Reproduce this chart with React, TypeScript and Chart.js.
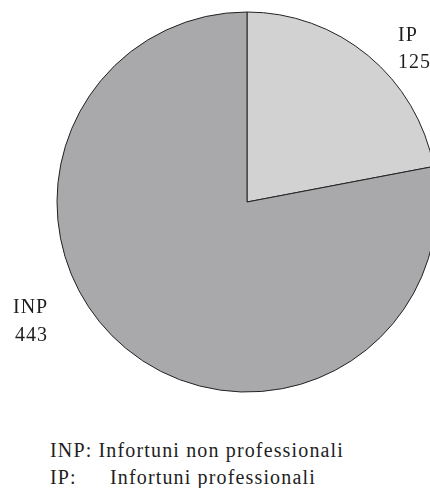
import React, { useEffect, useRef } from "react";
import { Chart, registerables } from "chart.js";

Chart.register(...registerables);

const categories = ["IP", "INP"];
const values = [125, 443];
const descriptions = ["Infortuni professionali", "Infortuni non professionali"];
const colors = ["#d2d2d3", "#a9a9ab"];

const font = "'Liberation Serif', 'Times New Roman', serif";

export default function App() {
  const ref = useRef<HTMLCanvasElement>(null);
  useEffect(() => {
    const chart = new Chart(ref.current!, {
      type: "pie",
      data: {
        labels: categories,
        datasets: [
          {
            data: values,
            backgroundColor: colors,
            borderColor: "#222",
            borderWidth: 1,
          },
        ],
      },
      options: {
        responsive: false,
        animation: false,
        radius: 190,
        layout: { padding: 0 },
        plugins: { legend: { display: false }, tooltip: { enabled: false } },
      } as any,
    });
    return () => chart.destroy();
  }, []);

  const txt: React.CSSProperties = {
    position: "absolute",
    fontFamily: font,
    fontSize: 20,
    lineHeight: "20px",
    letterSpacing: "1px",
    color: "#1e1e1e",
    whiteSpace: "pre",
  };
  const leg: React.CSSProperties = { ...txt, letterSpacing: "1.15px" };

  return (
    <div
      style={{
        position: "fixed",
        left: 0,
        top: 0,
        width: 430,
        height: 488,
        overflow: "hidden",
        background: "#fff",
      }}
    >
      <canvas ref={ref} width={494} height={404} style={{ display: "block", width: 494, height: 404 }} />
      <div style={{ ...txt, left: 398, top: 24 }}>{categories[0]}</div>
      <div style={{ ...txt, left: 398, top: 51 }}>{String(values[0])}</div>
      <div style={{ ...txt, left: 13, top: 296 }}>{categories[1]}</div>
      <div style={{ ...txt, left: 15, top: 324 }}>{String(values[1])}</div>
      <div style={{ ...leg, left: 50, top: 440 }}>
        <span>{categories[1] + ": "}</span>
        <span>{descriptions[1]}</span>
      </div>
      <div style={{ ...leg, left: 50, top: 467 }}>
        <span style={{ display: "inline-block", width: 60 }}>{categories[0] + ":"}</span>
        <span>{descriptions[0]}</span>
      </div>
    </div>
  );
}
